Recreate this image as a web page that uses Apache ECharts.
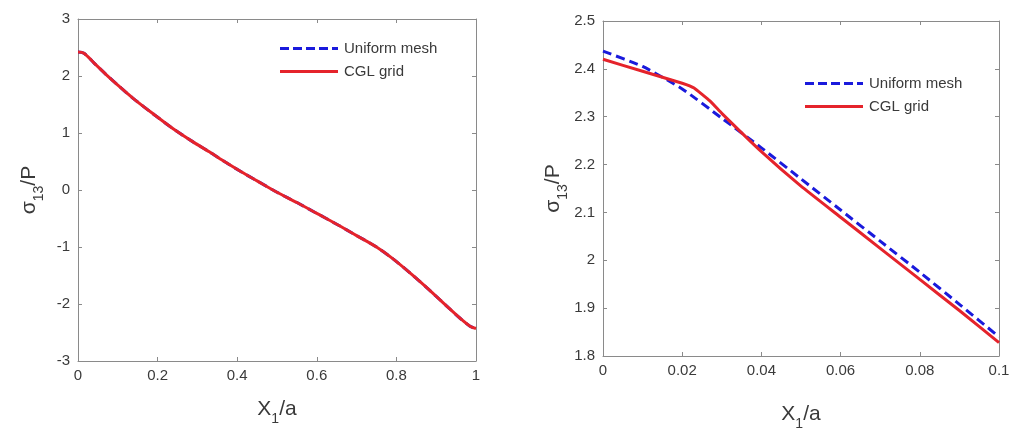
<!DOCTYPE html>
<html>
<head>
<meta charset="utf-8">
<script src="https://cdn.jsdelivr.net/npm/echarts@6/dist/echarts.min.js"></script>
<style>
  html, body { margin: 0; padding: 0; background: #ffffff; }
  #chart { width: 1013px; height: 432px; }
</style>
</head>
<body>
<div id="chart"></div>
<script>
// Shear stress sigma13/P along X1/a: full span (left) and near-edge zoom (right)
const fullX       = [0, 0.015, 0.04, 0.07, 0.1, 0.14, 0.19, 0.24, 0.29, 0.33, 0.37, 0.41, 0.45, 0.5, 0.55, 0.6, 0.65, 0.7, 0.75, 0.79, 0.84, 0.89, 0.93, 0.96, 0.985, 1.0];
const fullUniform = [2.42, 2.40, 2.23, 2.03, 1.84, 1.60, 1.33, 1.07, 0.84, 0.67, 0.49, 0.32, 0.16, -0.04, -0.22, -0.41, -0.60, -0.80, -1.00, -1.20, -1.49, -1.80, -2.06, -2.25, -2.39, -2.43];
const fullCGL     = [2.42, 2.40, 2.23, 2.03, 1.84, 1.60, 1.33, 1.07, 0.84, 0.67, 0.49, 0.32, 0.16, -0.04, -0.22, -0.41, -0.60, -0.80, -1.00, -1.20, -1.49, -1.80, -2.06, -2.25, -2.39, -2.43];

const zoomXUniform = [0, 0.01, 0.02, 0.03, 0.04, 0.05, 0.06, 0.07, 0.08, 0.09, 0.1];
const zoomUniform  = [2.437, 2.405, 2.358, 2.297, 2.235, 2.170, 2.105, 2.040, 1.975, 1.908, 1.840];
const zoomXCGL     = [0, 0.01, 0.02, 0.023, 0.027, 0.03, 0.04, 0.05, 0.06, 0.07, 0.08, 0.09, 0.1];
const zoomCGL      = [2.420, 2.395, 2.370, 2.360, 2.333, 2.307, 2.227, 2.155, 2.090, 2.025, 1.960, 1.895, 1.828];

const fullXTicks = { min: 0, max: 1, interval: 0.2 };
const fullYTicks = { min: -3, max: 3, interval: 1 };
const zoomXTicks = { min: 0, max: 0.1, interval: 0.02 };
const zoomYTicks = { min: 1.8, max: 2.5, interval: 0.1 };

const seriesNames = ['Uniform mesh', 'CGL grid'];

const pairs = (xs, ys) => xs.map((x, i) => [x, ys[i]]);

const FONT = 'Liberation Sans, Arial, sans-serif';
const AXIS_GREY = '#8a8a8a';
const LABEL_GREY = '#3a3a3a';
const BLUE = '#1a1adc';
const RED = '#e5232b';

const tidy = (digits) => (v) => String(+v.toFixed(digits));

// label styles for subscripted axis names
const nameRich = {
  m: { fontSize: 21, fontFamily: FONT, color: LABEL_GREY, lineHeight: 34, verticalAlign: 'middle' },
  s: { fontSize: 14, fontFamily: FONT, color: LABEL_GREY, lineHeight: 34, verticalAlign: 'bottom' }
};

function mainX(grid, ticks, digits, gap) {
  return {
    type: 'value', gridIndex: grid, position: 'bottom',
    min: ticks.min, max: ticks.max, interval: ticks.interval,
    name: '{m|X}{s|1}{m|/a}', nameLocation: 'middle', nameGap: gap,
    nameTextStyle: { rich: nameRich },
    axisLine: { show: true, onZero: false, lineStyle: { color: AXIS_GREY, width: 1 } },
    axisTick: { show: true, inside: true, length: 4, lineStyle: { color: AXIS_GREY } },
    axisLabel: { color: LABEL_GREY, fontSize: 15, fontFamily: FONT, margin: 7, formatter: tidy(digits) },
    splitLine: { show: false }
  };
}
function mainY(grid, ticks, digits, gap) {
  return {
    type: 'value', gridIndex: grid, position: 'left',
    min: ticks.min, max: ticks.max, interval: ticks.interval,
    name: '{m|σ}{s|13}{m|/P}', nameLocation: 'middle', nameGap: gap,
    nameTextStyle: { rich: nameRich },
    axisLine: { show: true, onZero: false, lineStyle: { color: AXIS_GREY, width: 1 } },
    axisTick: { show: true, inside: true, length: 4, lineStyle: { color: AXIS_GREY } },
    axisLabel: { color: LABEL_GREY, fontSize: 15, fontFamily: FONT, margin: 8, formatter: tidy(digits) },
    splitLine: { show: false }
  };
}
// mirrored axes that close the box with inward ticks and no labels
function frameX(grid, ticks) {
  return {
    type: 'value', gridIndex: grid, position: 'top',
    min: ticks.min, max: ticks.max, interval: ticks.interval,
    axisLine: { show: true, onZero: false, lineStyle: { color: AXIS_GREY, width: 1 } },
    axisTick: { show: true, inside: true, length: 4, lineStyle: { color: AXIS_GREY } },
    axisLabel: { show: false }, splitLine: { show: false }
  };
}
function frameY(grid, ticks) {
  return {
    type: 'value', gridIndex: grid, position: 'right',
    min: ticks.min, max: ticks.max, interval: ticks.interval,
    axisLine: { show: true, onZero: false, lineStyle: { color: AXIS_GREY, width: 1 } },
    axisTick: { show: true, inside: true, length: 4, lineStyle: { color: AXIS_GREY } },
    axisLabel: { show: false }, splitLine: { show: false }
  };
}

function uniformSeries(xAxisIndex, yAxisIndex, data, smooth) {
  return {
    name: seriesNames[0], type: 'line', xAxisIndex, yAxisIndex, data,
    showSymbol: false, symbol: 'none', smooth, z: 2,
    lineStyle: { color: BLUE, width: 3, type: [9, 5] },
    itemStyle: { color: BLUE }
  };
}
function cglSeries(xAxisIndex, yAxisIndex, data, smooth) {
  return {
    name: seriesNames[1], type: 'line', xAxisIndex, yAxisIndex, data,
    showSymbol: false, symbol: 'none', smooth, z: 3,
    lineStyle: { color: RED, width: 3 },
    itemStyle: { color: RED }
  };
}

// legend samples: a dashed bar and a solid bar
const DASH_ICON = 'path://M0,0h9v3h-9z M13,0h9v3h-9z M26,0h9v3h-9z M39,0h9v3h-9z M52,0h6v3h-6z';
const SOLID_ICON = 'path://M0,0h58v3h-58z';

function legendAt(left, top) {
  return {
    left, top, orient: 'vertical', itemWidth: 58, itemHeight: 3, itemGap: 8,
    selectedMode: false,
    data: [
      { name: seriesNames[0], icon: DASH_ICON },
      { name: seriesNames[1], icon: SOLID_ICON }
    ],
    textStyle: { color: LABEL_GREY, fontSize: 15, fontFamily: FONT, padding: [0, 0, 0, 1] }
  };
}

const option = {
  backgroundColor: '#ffffff',
  animation: false,
  grid: [
    { left: 78, top: 19, width: 398, height: 342, containLabel: false, outerBoundsMode: 'none' },
    { left: 603, top: 21, width: 396, height: 335, containLabel: false, outerBoundsMode: 'none' }
  ],
  xAxis: [
    mainX(0, fullXTicks, 1, 31),
    mainX(1, zoomXTicks, 2, 41),
    frameX(0, fullXTicks),
    frameX(1, zoomXTicks)
  ],
  yAxis: [
    mainY(0, fullYTicks, 0, 32),
    mainY(1, zoomYTicks, 1, 28),
    frameY(0, fullYTicks),
    frameY(1, zoomYTicks)
  ],
  legend: [legendAt(275, 36), legendAt(800, 71)],
  series: [
    uniformSeries(0, 0, pairs(fullX, fullUniform), 0.3),
    cglSeries(0, 0, pairs(fullX, fullCGL), 0.3),
    uniformSeries(1, 1, pairs(zoomXUniform, zoomUniform), 0.2),
    cglSeries(1, 1, pairs(zoomXCGL, zoomCGL), 0.1)
  ]
};

const chart = echarts.init(document.getElementById('chart'), null, { renderer: 'canvas' });
chart.setOption(option);
</script>
</body>
</html>
